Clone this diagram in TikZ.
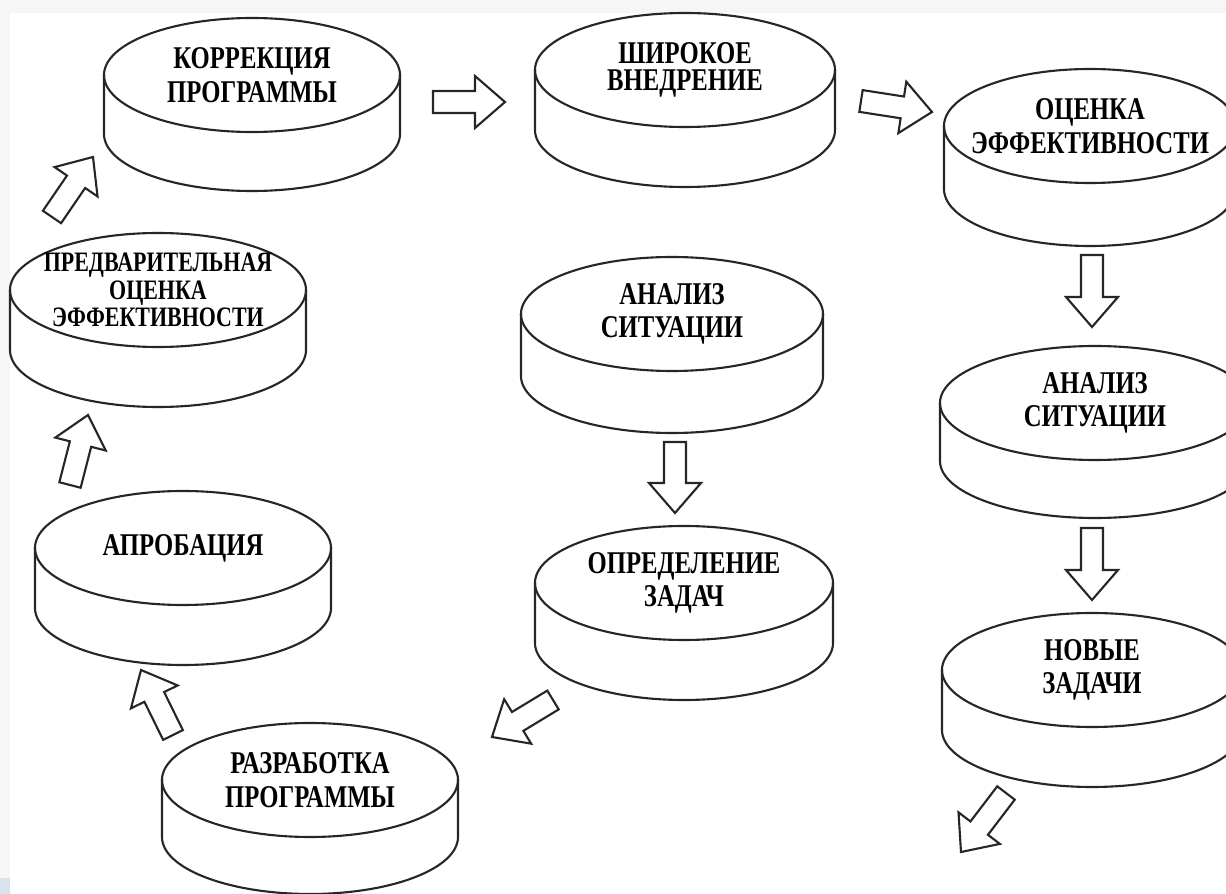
\documentclass[tikz,border=0pt]{standalone}
\usepackage{fontspec}
\setmainfont{Liberation Serif}[FakeStretch=0.78]
\usepackage{tikz}
\usetikzlibrary{calc}

\definecolor{cornerblue}{RGB}{214,228,240}

% hollow block arrow from #1 to #2
\newcommand{\blockarrow}[2]{%
  \coordinate (ah) at ($(#2)!0.30cm!(#1)$);
  \draw[rim] ($(#1)!0.11cm!90:(#2)$) -- ($(ah)!0.11cm!90:(#2)$) -- ($(ah)!0.26cm!90:(#2)$)
    -- (#2) -- ($(ah)!0.26cm!-90:(#2)$) -- ($(ah)!0.11cm!-90:(#2)$) -- ($(#1)!0.11cm!-90:(#2)$) -- cycle;
}

\begin{document}
\begin{tikzpicture}[x=0.01cm,y=0.01cm,
    rim/.style={line width=0.6pt,black!85},
    disktext/.style={font=\fontsize{9}{9.6}\selectfont\bfseries,align=center,inner sep=0pt}]
        \useasboundingbox (0,0) rectangle (1226,-894);
        % page
        \fill[gray!7] (0,0) rectangle (1226,-894);
        \fill[white] (10,-13) rectangle (1226,-894);
        \fill[cornerblue] (0,-878) rectangle (10,-894);

        % correction of the programme
        \draw[rim] (104,-75) -- (104,-134) arc[start angle=180,end angle=360,x radius=148,y radius=57] -- (400,-75);
        \draw[rim] (252,-75) ellipse[x radius=148,y radius=57];
        \node[disktext] (korr) at (252,-75) {КОРРЕКЦИЯ\\ПРОГРАММЫ};

        % wide introduction
        \draw[rim] (535,-70) -- (535,-130) arc[start angle=180,end angle=360,x radius=150,y radius=57] -- (835,-70);
        \draw[rim] (685,-70) ellipse[x radius=150,y radius=57];
        \node[disktext,font=\fontsize{9}{7.6}\selectfont\bfseries] (shir) at (685,-70) {ШИРОКОЕ\\ВНЕДРЕНИЕ};

        % efficiency assessment
        \draw[rim] (944,-126) -- (944,-189) arc[start angle=180,end angle=360,x radius=146,y radius=57] -- (1236,-126);
        \draw[rim] (1090,-126) ellipse[x radius=146,y radius=57];
        \node[disktext] (ocen) at (1090,-126) {ОЦЕНКА\\ЭФФЕКТИВНОСТИ};

        % preliminary assessment
        \draw[rim] (10,-290) -- (10,-350) arc[start angle=180,end angle=360,x radius=148,y radius=57] -- (306,-290);
        \draw[rim] (158,-290) ellipse[x radius=148,y radius=57];
        \node[disktext,font=\fontsize{8}{7.8}\selectfont\bfseries] (pred) at (158,-290) {ПРЕДВАРИТЕЛЬНАЯ\\ОЦЕНКА\\ЭФФЕКТИВНОСТИ};

        % approbation
        \draw[rim] (35,-548) -- (35,-608) arc[start angle=180,end angle=360,x radius=148,y radius=57] -- (331,-548);
        \draw[rim] (183,-548) ellipse[x radius=148,y radius=57];
        \node[disktext] (aprob) at (183,-548) {АПРОБАЦИЯ};

        % situation analysis, middle
        \draw[rim] (521,-314) -- (521,-376) arc[start angle=180,end angle=360,x radius=151,y radius=57] -- (823,-314);
        \draw[rim] (672,-314) ellipse[x radius=151,y radius=57];
        \node[disktext] (analA) at (672,-314) {АНАЛИЗ\\СИТУАЦИИ};

        % defining the tasks
        \draw[rim] (535,-583) -- (535,-643) arc[start angle=180,end angle=360,x radius=149,y radius=57] -- (833,-583);
        \draw[rim] (684,-583) ellipse[x radius=149,y radius=57];
        \node[disktext] (opred) at (684,-583) {ОПРЕДЕЛЕНИЕ\\ЗАДАЧ};

        % situation analysis, right
        \draw[rim] (940,-403) -- (940,-461) arc[start angle=180,end angle=360,x radius=155,y radius=57] -- (1250,-403);
        \draw[rim] (1095,-403) ellipse[x radius=155,y radius=57];
        \node[disktext] (analB) at (1095,-403) {АНАЛИЗ\\СИТУАЦИИ};

        % new tasks
        \draw[rim] (942,-670) -- (942,-730) arc[start angle=180,end angle=360,x radius=150,y radius=57] -- (1242,-670);
        \draw[rim] (1092,-670) ellipse[x radius=150,y radius=57];
        \node[disktext] (novye) at (1092,-670) {НОВЫЕ\\ЗАДАЧИ};

        % programme development
        \draw[rim] (162,-780) -- (162,-837) arc[start angle=180,end angle=360,x radius=148,y radius=57] -- (458,-780);
        \draw[rim] (310,-780) ellipse[x radius=148,y radius=57];
        \node[disktext] (razr) at (310,-780) {РАЗРАБОТКА\\ПРОГРАММЫ};

        % arrow ends
        \coordinate (predout) at (52,-217);   \coordinate (korrin) at (93,-157);
        \coordinate (korrout) at (433,-102);  \coordinate (shirin) at (505,-102);
        \coordinate (shirout) at (861,-101);  \coordinate (ocenin) at (932,-112);
        \coordinate (ocenout) at (1092,-255); \coordinate (analBin) at (1092,-327);
        \coordinate (analBout) at (1092,-528);\coordinate (novyein) at (1092,-600);
        \coordinate (novyeout) at (1006,-793);\coordinate (exit) at (961,-852);
        \coordinate (analAout) at (675,-442); \coordinate (opredin) at (675,-513);
        \coordinate (opredout) at (553,-700); \coordinate (razrin) at (492,-737);
        \coordinate (razrout) at (173,-735);  \coordinate (aprobin) at (141,-670);
        \coordinate (aprobout) at (70,-485);  \coordinate (predin) at (88,-415);

        % arrows
        \blockarrow{predout}{korrin}
        \blockarrow{korrout}{shirin}
        \blockarrow{shirout}{ocenin}
        \blockarrow{ocenout}{analBin}
        \blockarrow{analBout}{novyein}
        \blockarrow{novyeout}{exit}
        \blockarrow{analAout}{opredin}
        \blockarrow{opredout}{razrin}
        \blockarrow{razrout}{aprobin}
        \blockarrow{aprobout}{predin}
    \end{tikzpicture}
\end{document}
